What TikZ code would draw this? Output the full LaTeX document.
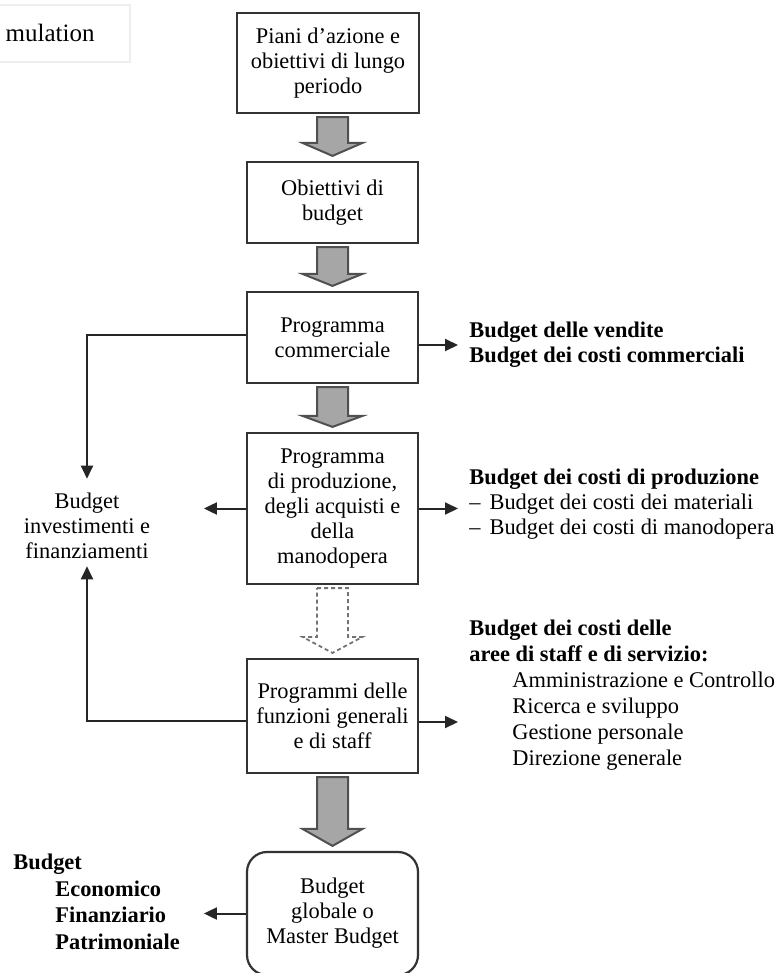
\documentclass[tikz,border=0pt]{standalone}
\usepackage{fontspec}
\setmainfont{Liberation Serif}
\usetikzlibrary{calc,arrows.meta}
\definecolor{boxline}{HTML}{333333}
\definecolor{fatfill}{HTML}{A6A6A6}
\definecolor{fatline}{HTML}{505050}
\definecolor{faint}{HTML}{EEEEEE}
\tikzset{
  txt/.style={font=\fontsize{11.2}{12.5}\selectfont, inner sep=0pt},
  txtb/.style={font=\fontsize{11.2}{12.5}\selectfont\bfseries, inner sep=0pt},
  box/.style={draw=boxline, line width=1.1pt, align=center, txt, minimum width=85.5pt},
  conn/.style={draw=black!85, line width=1pt, -{Triangle[length=6.5pt,width=6pt]}},
  fat/.style={fill=fatfill, draw=fatline, line width=1pt, line join=miter},
  fatdash/.style={fill=white, draw=black!55, line width=0.9pt, dash pattern=on 2pt off 1.5pt},
  side/.style={align=left, anchor=west, inner xsep=5.5pt, inner ysep=0pt},
}
\newcommand\fatarrow[4]{%
  \draw[#1] let \p1=(#2.south), \p2=(#3.north) in
    (\x2-7.75pt,\y1-1.5pt) -- (\x2+7.75pt,\y1-1.5pt) -- (\x2+7.75pt,\y2+#4) --
    (\x2+15pt,\y2+#4) -- (\x2,\y2+2.5pt) -- (\x2-15pt,\y2+#4) --
    (\x2-7.75pt,\y2+#4) -- cycle;}
\begin{document}
\begin{tikzpicture}[x=0.5pt,y=-0.5pt]
\useasboundingbox (0,0) rectangle (777,973);
\clip (0,0) rectangle (777,973);

% faint top-left box
\draw[draw=faint, line width=1pt] (-5,5) rectangle (130,62);
\node[font=\fontsize{12.5}{14}\selectfont, inner sep=0pt, anchor=east] (form) at (95,33) {mulation};

% main boxes
\node[box, minimum width=91pt, minimum height=50pt] (b1) at (328,63) {Piani d’azione e\\obiettivi di lungo\\periodo};
\node[box, minimum height=40.5pt] (b2) at (332.5,202.5) {Obiettivi di\\budget};
\node[box, minimum height=45.5pt] (b3) at (332.5,337.5) {Programma\\commerciale};
\node[box, minimum height=75.5pt] (b4) at (332.5,508.5) {Programma\\di produzione,\\degli acquisti e\\della\\manodopera};
\node[box, minimum height=57pt] (b5) at (332.5,716) {Programmi delle\\funzioni generali\\e di staff};
\node[box, rounded corners=10pt, minimum height=61.5pt] (b6) at (332.5,913.5) {Budget\\globale o\\Master Budget};

% fat arrows
\fatarrow{fat}{b1}{b2}{9pt}
\fatarrow{fat}{b2}{b3}{8.5pt}
\fatarrow{fat}{b3}{b4}{8pt}
\fatarrow{fatdash}{b4}{b5}{10.5pt}
\fatarrow{fat}{b5}{b6}{11pt}

% left text
\node[txt, align=center, inner ysep=7pt] (inv) at (87,526) {Budget\\investimenti e\\finanziamenti};
\coordinate (b3l) at ([yshift=1.5pt]b3.west);
\draw[conn] (b3l) -| (inv.north);
\coordinate (b5l) at ([yshift=-2.5pt]b5.west);
\draw[conn, shorten >=-3.5pt] (b5l) -| (inv.south);
\coordinate (a4) at ($(b4.west)+(-21pt,0)$);
\draw[conn] (b4.west) -- (a4);

% right texts
\node[txtb, side] (r3) at (458,345) {Budget delle vendite\\Budget dei costi commerciali};
\draw[conn] (b3.east |- r3.west) -- (r3.west);

\node[txt, side] (r4) at (458,504) {\textbf{Budget dei costi di produzione}\\–\hspace{4.5pt}Budget dei costi dei materiali\\–\hspace{4.5pt}Budget dei costi di manodopera};
\draw[conn] (b4.east) -- (b4.east -| r4.west);

\node[font=\fontsize{11.2}{13}\selectfont, side] (r5) at (458,695) {\textbf{Budget dei costi delle}\\\textbf{aree di staff e di servizio:}\\\hspace*{21.5pt}Amministrazione e Controllo\\\hspace*{21.5pt}Ricerca e sviluppo\\\hspace*{21.5pt}Gestione personale\\\hspace*{21.5pt}Direzione generale};
\coordinate (b5r) at ([yshift=-3pt]b5.east);
\draw[conn] (b5r) -- (b5r -| r5.west);

% bottom-left
\node[font=\fontsize{11.2}{13.3}\selectfont\bfseries, align=left, anchor=west, inner sep=0pt] (r6) at (13,902) {Budget\\\hspace*{21pt}Economico\\\hspace*{21pt}Finanziario\\\hspace*{21pt}Patrimoniale};
\coordinate (a6) at ($(b6.west)+(-21pt,0)$);
\draw[conn] (b6.west) -- (a6);
\end{tikzpicture}
\end{document}
